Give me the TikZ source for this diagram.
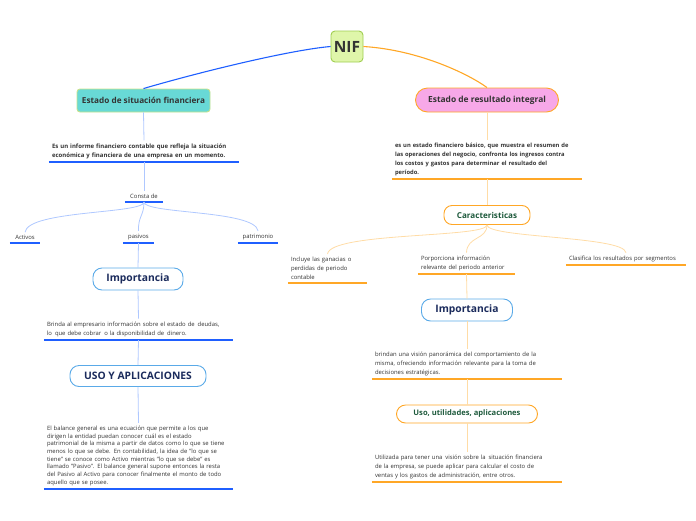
\documentclass[tikz,border=0pt]{standalone}
\usepackage{fontspec}
\setmainfont{Open Sans}
\definecolor{lineblue}{HTML}{1F5FFF}
\definecolor{pale blue}{HTML}{AFC8FF}
\definecolor{lineorange}{HTML}{FFA726}
\definecolor{pale orange}{HTML}{FFDCA6}
\definecolor{inkgray}{HTML}{333333}
\definecolor{navy}{HTML}{1B2B5C}
\definecolor{darkgreen}{HTML}{1E5A3C}
\begin{document}
\begin{tikzpicture}[x=1pt,y=-1pt,
    font=\fontsize{5.9}{9}\selectfont, text=inkgray,
    txt/.style={inner xsep=3pt, inner ysep=3pt, align=left, anchor=south},
    word/.style={inner xsep=2pt, inner ysep=3pt, anchor=south},
    pill/.style={draw, line width=0.9pt, fill=white, inner sep=0pt,
      rounded corners=9pt, font=\fontsize{10.3}{12}\selectfont\bfseries},
    ulB/.style={lineblue, line width=1.2pt},
    ulO/.style={lineorange, line width=1.2pt},
    linkB/.style={pale blue, line width=0.8pt},
    linkO/.style={pale orange, line width=0.8pt}]
  \useasboundingbox (0,0) rectangle (696,520);

  % root
  \node[draw={rgb,255:red,160;green,206;blue,80}, fill={rgb,255:red,223;green,246;blue,170},
    line width=0.9pt, rounded corners=4pt, inner sep=2pt, minimum width=32pt,
    minimum height=31pt, font=\fontsize{15.5}{17}\selectfont\bfseries] (nif) at (347,46.5) {NIF};

  % left branch
  \node[draw={rgb,255:red,200;green,226;blue,140}, fill={rgb,255:red,104;green,217;blue,214},
    line width=0.9pt, rounded corners=3pt, inner sep=1pt, minimum width=133pt, minimum height=23pt,
    font=\fontsize{8.2}{9}\selectfont\bfseries] (esf) at (143.5,100.5)
    {Estado de situación financiera};
  \draw[lineblue, line width=1.1pt] (nif.west) .. controls (290,50) and (200,72) .. (esf.north);

  \node[txt, text width=184pt, font=\fontsize{6}{9.3}\selectfont\bfseries] (esfTxt) at (144,162)
    {Es un informe financiero contable que refleja la situación\\
     económica y financiera de una empresa en un momento.};
  \draw[ulB] (esfTxt.south west) -- (esfTxt.south east);
  \draw[linkB] (esf.south) -- (esfTxt.north);

  \node[word, minimum width=38pt] (consta) at (144,202) {Consta de};
  \draw[ulB] (consta.south west) -- (consta.south east);
  \draw[linkB] (esfTxt.south) -- (consta.north);

  \node[word, minimum width=30pt] (activos) at (25,243) {Activos};
  \node[word, minimum width=31pt] (pasivos) at (138.5,243) {pasivos};
  \node[word, minimum width=40pt] (patrimonio) at (258,243) {patrimonio};
  \foreach \n in {activos,pasivos,patrimonio}
    \draw[ulB] (\n.south west) -- (\n.south east);
  \draw[linkB] (consta.south) .. controls (144,214) and (28,210) .. (activos.north);
  \draw[linkB] (consta.south) .. controls (144,216) and (138,216) .. (pasivos.north);
  \draw[linkB] (consta.south) .. controls (144,214) and (255,210) .. (patrimonio.north);

  \node[pill, draw={rgb,255:red,90;green,170;blue,232}, text=navy,
    minimum width=90pt, minimum height=22pt] (impL) at (138,279) {Importancia};
  \draw[linkB] (pasivos.south) -- (impL.north);

  \node[txt, text width=183pt] (brinda) at (138.5,340)
    {Brinda al empresario información sobre el estado de\, deudas,\\
     lo\, que debe cobrar\, o la disponibilidad de\, dinero.};
  \draw[ulB] (brinda.south west) -- (brinda.south east);
  \draw[linkB] (impL.south) -- (brinda.north);

  \node[pill, draw={rgb,255:red,90;green,170;blue,232}, text=navy,
    minimum width=136pt, minimum height=21pt] (usoL) at (138,376) {USO Y APLICACIONES};
  \draw[linkB] (brinda.south) -- (usoL.north);

  \node[txt, text width=183pt, font=\fontsize{5.9}{7.7}\selectfont] (balance) at (138.5,489)
    {El balance general es una ecuación que permite a los que\\
     dirigen la entidad puedan conocer cuál es el estado\\
     patrimonial de la misma a partir de datos como lo que se tiene\\
     menos lo que se debe. En contabilidad, la idea de "lo que se\\
     tiene" se conoce como Activo mientras "lo que se debe" es\\
     llamado "Pasivo". El balance general supone entonces la resta\\
     del Pasivo al Activo para conocer finalmente el monto de todo\\
     aquello que se posee.};
  \draw[ulB] (balance.south west) -- (balance.south east);
  \draw[linkB] (usoL.south) -- (balance.north);

  % right branch
  \node[draw=lineorange, fill={rgb,255:red,247;green,168;blue,232}, line width=0.9pt,
    rounded corners=12pt, inner sep=1pt, minimum width=143pt, minimum height=24pt,
    font=\fontsize{8.4}{9}\selectfont\bfseries] (eri) at (487,100)
    {Estado de resultado integral};
  \draw[lineorange, line width=1.1pt] (nif.east) .. controls (420,50) and (470,75) .. (eri.north);

  \node[txt, text width=184pt, font=\fontsize{5.8}{9}\selectfont\bfseries] (eriTxt) at (487,179)
    {es un estado financiero básico, que muestra el resumen de\\
     las operaciones del negocio, confronta los ingresos contra\\
     los costos y gastos para determinar el resultado del\\
     período.};
  \draw[ulO] (eriTxt.south west) -- (eriTxt.south east);
  \draw[linkO] (eri.south) -- (eriTxt.north);

  \node[pill, draw=lineorange, text=darkgreen, rounded corners=8pt,
    minimum width=86pt, minimum height=19pt, font=\fontsize{8.1}{9}\selectfont\bfseries]
    (car) at (487,215) {Caracteristicas};
  \draw[linkO] (eriTxt.south) -- (car.north);

  \node[txt, text width=73pt] (incluye) at (327.5,283)
    {Incluye las ganacias o\\ perdidas de periodo\\ contable};
  \node[txt, text width=91pt] (porporciona) at (466.5,274)
    {Porporciona información\\ relevante del periodo anterior};
  \node[txt, text width=114pt] (clasifica) at (626,265)
    {Clasifica los resultados por segmentos};
  \foreach \n in {incluye,porporciona,clasifica}
    \draw[ulO] (\n.south west) -- (\n.south east);
  \draw[linkO] (car.south) .. controls (487,238) and (330,232) .. (incluye.north);
  \draw[linkO] (car.south) .. controls (487,240) and (467,236) .. (porporciona.north);
  \draw[linkO] (car.south) .. controls (487,238) and (624,236) .. (clasifica.north);

  \node[pill, draw={rgb,255:red,90;green,170;blue,232}, text=navy,
    minimum width=91pt, minimum height=22pt] (impR) at (467,310) {Importancia};
  \draw[linkO] (porporciona.south) -- (impR.north);

  \node[txt, text width=184pt] (brindan) at (467,379)
    {brindan una visión panorámica del comportamiento de la\\
     misma, ofreciendo información relevante para la toma de\\
     decisiones estratégicas.};
  \draw[ulO] (brindan.south west) -- (brindan.south east);
  \draw[linkO] (impR.south) -- (brindan.north);

  \node[pill, draw=lineorange, text=darkgreen, minimum width=141pt, minimum height=18pt,
    font=\fontsize{7.6}{9}\selectfont\bfseries] (usoR) at (467,414)
    {Uso, utilidades, aplicaciones};
  \draw[linkO] (brindan.south) -- (usoR.north);

  \node[txt, text width=184pt] (utilizada) at (467,482)
    {Utilizada para tener una\, visión sobre la\, situación financiera\\
     de la empresa, se puede aplicar para calcular el costo de\\
     ventas y los gastos de administración, entre otros.};
  \draw[ulO] (utilizada.south west) -- (utilizada.south east);
  \draw[linkO] (usoR.south) -- (utilizada.north);
\end{tikzpicture}
\end{document}
